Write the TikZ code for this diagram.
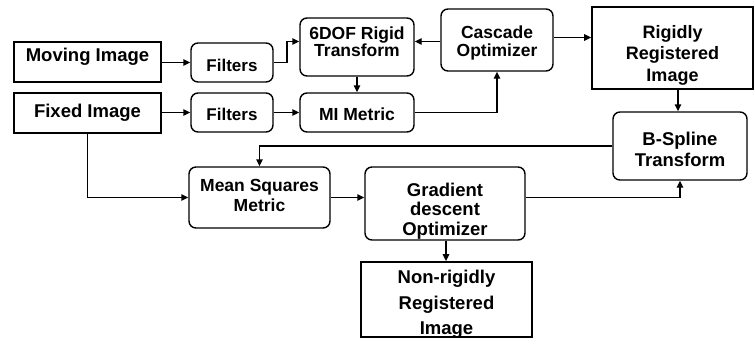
\documentclass[tikz,border=0pt]{standalone}
\usepackage{fontspec}
\setmainfont{Liberation Sans}
\usetikzlibrary{arrows.meta}
\begin{document}
\begin{tikzpicture}[x=1pt,y=-1pt,
  sbox/.style={draw, line width=1.8pt, inner sep=0pt},
  rbox/.style={draw, line width=1.4pt, rounded corners=7pt, inner sep=0pt},
  txt/.style={align=center, inner sep=0pt, font=\fontsize{17.5}{19}\selectfont\bfseries},
  arr/.style={line width=1.4pt, -{Triangle[length=7pt,width=6.5pt]}},
  link/.style={line width=1.4pt}]
\useasboundingbox (0,0) rectangle (755,346);

% boxes
\node[sbox, minimum width=147pt, minimum height=40pt] (mov) at (87.5,62) {};
\node[rbox, minimum width=82pt, minimum height=39pt] (fil1) at (232,62.5) {};
\node[rbox, minimum width=114pt, minimum height=58pt] (dof) at (357,47) {};
\node[rbox, minimum width=112pt, minimum height=62pt] (cas) at (497,40) {};
\node[sbox, minimum width=161pt, minimum height=82pt] (rig) at (672.5,48) {};
\node[sbox, minimum width=147pt, minimum height=40pt] (fix) at (87.5,113) {};
\node[rbox, minimum width=82pt, minimum height=39pt] (fil2) at (232,112.5) {};
\node[rbox, minimum width=114pt, minimum height=39pt] (mi) at (357,112.5) {};
\node[rbox, minimum width=134pt, minimum height=68pt] (bsp) at (680,146) {};
\node[rbox, minimum width=141pt, minimum height=61pt] (msq) at (259.5,197.5) {};
\node[rbox, minimum width=160pt, minimum height=73pt] (gd) at (445,203.5) {};
\node[sbox, minimum width=171pt, minimum height=75pt] (nrr) at (446.5,299.5) {};

% labels
\node[txt, font=\fontsize{18.5}{20}\selectfont\bfseries] (movt) at (87.5,57) {Moving Image};
\node[txt, font=\fontsize{18.5}{20}\selectfont\bfseries] (fixt) at (87.5,113) {Fixed Image};
\node[txt, font=\fontsize{17}{19}\selectfont\bfseries] (fil1t) at (232,65.5) {Filters};
\node[txt, font=\fontsize{17}{19}\selectfont\bfseries] (fil2t) at (232,114.5) {Filters};
\node[txt, font=\fontsize{17.5}{17.5}\selectfont\bfseries] (doft) at (357,41.5) {6DOF Rigid\\Transform};
\node[txt] (mit) at (357,114) {MI Metric};
\node[txt, font=\fontsize{17.5}{18}\selectfont\bfseries] (cast) at (497,42.5) {Cascade\\Optimizer};
\node[txt, font=\fontsize{18}{21.5}\selectfont\bfseries] (rigt) at (672.5,55) {Rigidly\\Registered\\Image};
\node[txt, font=\fontsize{18.5}{21}\selectfont\bfseries] (bspt) at (680,149) {B-Spline\\Transform};
\node[txt, font=\fontsize{17.5}{20}\selectfont\bfseries] (msqt) at (259.5,195) {Mean Squares\\Metric};
\node[txt, font=\fontsize{18.5}{19.5}\selectfont\bfseries] (gdt) at (445,211) {Gradient\\descent\\Optimizer};
\node[txt, font=\fontsize{18.5}{25.5}\selectfont\bfseries] (nrrt) at (446.5,304.5) {Non-rigidly\\Registered\\Image};

% connectors
\coordinate (k1) at (287,41.5);
\draw[arr] (mov.east |- fil1.west) -- (fil1.west);
\draw[arr] (fil1.east) -| (k1) -- (k1 -| dof.west);
\draw[arr] (dof.south) -- (mi.north);
\draw[arr] (cas.west |- k1) -- (dof.east |- k1);
\draw[arr] (cas.east |- 0,37.5) -- (rig.west |- 0,37.5);
\draw[arr] (mi.east) -| (cas.south);
\draw[arr] (fix.east |- fil2.west) -- (fil2.west);
\draw[arr] (fil2.east) -- (mi.west);
\draw[arr] (rig.south -| 678,0) -- (bsp.north -| 678,0);
\draw[arr] (bsp.west) -| (msq.north);
\draw[arr] (fix.south) |- (msq.west);
\draw[arr] (msq.east) -- (gd.west |- msq.east);
\draw[arr] (gd.east |- msq.east) -| (bsp.south);
\draw[arr] (gd.south -| 446,0) -- (nrr.north -| 446,0);
\end{tikzpicture}
\end{document}
